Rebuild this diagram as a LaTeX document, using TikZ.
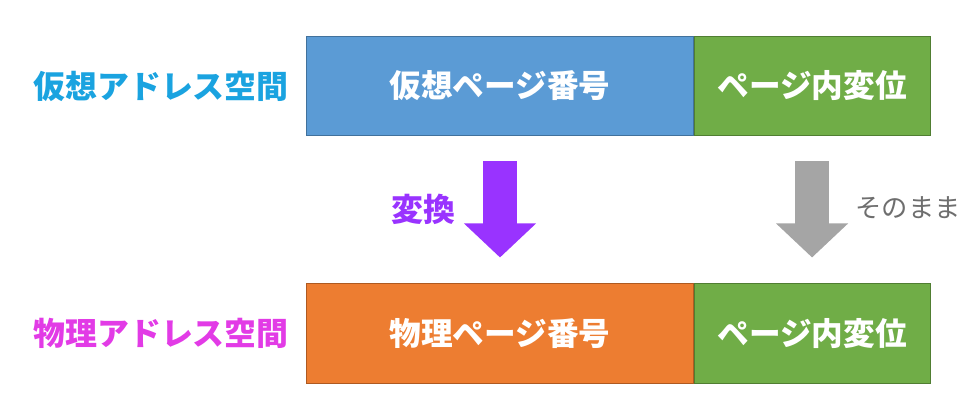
\documentclass[tikz,border=0pt]{standalone}
\usepackage{fontspec}
\newfontfamily\jpfont{Noto Sans CJK JP}
\usepackage{xcolor}
\usetikzlibrary{arrows.meta,positioning}
\definecolor{vblue}{HTML}{5B9BD5}
\definecolor{vblueb}{HTML}{41719C}
\definecolor{pgreen}{HTML}{70AD47}
\definecolor{pgreenb}{HTML}{507E32}
\definecolor{porange}{HTML}{ED7D31}
\definecolor{porangeb}{HTML}{AE5A21}
\definecolor{xpurple}{HTML}{9933FF}
\definecolor{xgray}{HTML}{A5A5A5}
\definecolor{xgraytext}{HTML}{6E6E6E}
\definecolor{lcyan}{HTML}{1AA3E0}
\definecolor{lmagenta}{HTML}{E23BE6}

\begin{document}
\begin{tikzpicture}[x=0.025cm,y=-0.025cm,font=\jpfont\fontsize{22}{26}\selectfont,
  field/.style={draw,line width=0.7pt,text=white,inner sep=0pt,
    font=\jpfont\bfseries\fontsize{22.5}{26}\selectfont,minimum height=2.475cm},
  addr/.style={font=\jpfont\bfseries\fontsize{22.7}{26}\selectfont},
  bigarrow/.style={line width=0.85cm,-{Triangle[length=0.85cm,width=1.75cm]}}]
  \useasboundingbox (0,0) rectangle (978,411);
  % virtual address
  \node[field,fill=vblue,draw=vblueb,minimum width=9.65cm] (vpn) at (500,86) {仮想ページ番号};
  \node[field,fill=pgreen,draw=pgreenb,minimum width=5.9cm,right=0pt of vpn] (voff) {ページ内変位};
  % physical address
  \node[field,fill=porange,draw=porangeb,minimum width=9.65cm] (ppn) at (500,333.5) {物理ページ番号};
  \node[field,fill=pgreen,draw=pgreenb,minimum width=5.9cm,right=0pt of ppn] (poff) {ページ内変位};
  \node[addr,text=lcyan] (vlabel) at (161,86) {仮想アドレス空間};
  \node[addr,text=lmagenta] (plabel) at (161,333.5) {物理アドレス空間};
  % arrows
  \draw[bigarrow,xpurple,shorten <=0.625cm,shorten >=0.65cm] (vpn) -- (ppn);
  \draw[bigarrow,xgray,shorten <=0.625cm,shorten >=0.65cm] (voff) -- (poff);
  \node[addr,text=xpurple] (conv) at (423,209) {変換};
  \node[text=xgraytext,font=\jpfont\fontsize{18.7}{22}\selectfont] (keep) at (908,208) {そのまま};
\end{tikzpicture}
\end{document}
